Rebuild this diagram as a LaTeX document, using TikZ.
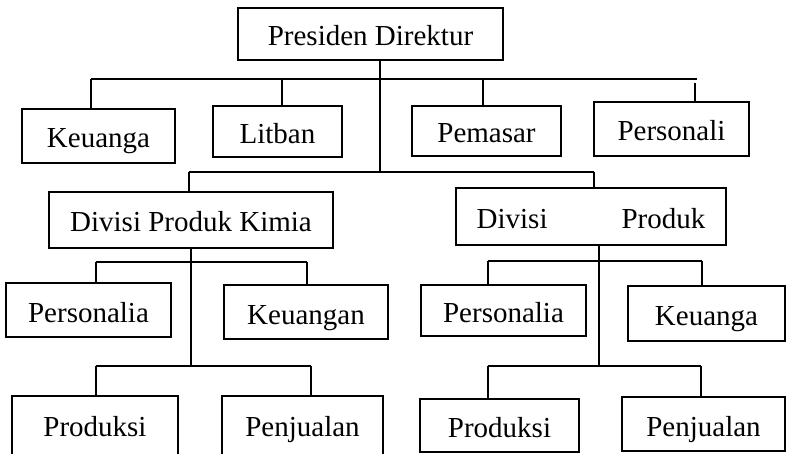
\documentclass[tikz,border=0pt]{standalone}
\usepackage{fontspec}
\setmainfont{Liberation Serif}
\begin{document}
\begin{tikzpicture}[x=1pt,y=-1pt,line width=1.8pt,
  box/.style={draw,inner sep=0pt,font=\fontsize{29}{32}\selectfont,text height=24pt,text depth=0pt},
  obox/.style={box,draw=none}]
\useasboundingbox (0,0) rectangle (786,454);
\clip (0,0) rectangle (786,454);
% top level
\node[box,minimum width=265pt,minimum height=52pt] (pres) at (370.5,34) {Presiden Direktur};
\node[box,minimum width=153pt,minimum height=54pt] (keu) at (98.5,136) {Keuanga};
\node[box,minimum width=129pt,minimum height=51pt] (lit) at (277.5,131.5) {Litban};
\node[box,minimum width=149pt,minimum height=50pt] (pem) at (486.5,131) {Pemasar};
\node[box,minimum width=155pt,minimum height=54pt] (per) at (671.5,129) {Personali};
% divisions
\node[box,minimum width=284pt,minimum height=56pt] (kim) at (191,220) {Divisi Produk Kimia};
\node[box,minimum width=270pt,minimum height=57pt] (dpr) at (591,216.5) {Divisi\hspace{74pt}Produk};
% left division units
\node[box,minimum width=165pt,minimum height=54pt] (lpers) at (88.5,310) {Personalia};
\node[box,minimum width=164pt,minimum height=54pt] (lkeu) at (306,312) {Keuangan};
\node[obox,minimum width=164pt,minimum height=54pt] (lprod) at (95,424) {Produksi};
\node[obox,minimum width=159pt,minimum height=54pt] (lpen) at (302.5,424) {Penjualan};
\draw ([yshift=-20pt]lprod.south west) -- (lprod.north west) -- (lprod.north east) -- ([yshift=-20pt]lprod.south east);
\draw ([yshift=-20pt]lpen.south west) -- (lpen.north west) -- (lpen.north east) -- ([yshift=-20pt]lpen.south east);
% right division units
\node[box,minimum width=165pt,minimum height=51pt] (rpers) at (503.5,310.5) {Personalia};
\node[box,minimum width=157pt,minimum height=55pt] (rkeu) at (706.5,313.5) {Keuanga};
\node[box,minimum width=159pt,minimum height=53pt] (rprod) at (499.5,425.5) {Produksi};
\node[box,minimum width=163pt,minimum height=54pt] (rpen) at (703.5,424) {Penjualan};
% connectors: top
\coordinate (tr) at (380,172);
\coordinate (b1L) at (91,79);
\coordinate (b1R) at (697,79);
\coordinate (dLit) at (282,79);
\coordinate (dPem) at (483,79);
\coordinate (dPer) at (695,83);
\draw (tr |- pres.south) -- (tr);
\draw (b1L) -- (b1R);
\draw (b1L) -- (b1L |- keu.north);
\draw (dLit) -- (dLit |- lit.north);
\draw (dPem) -- (dPem |- pem.north);
\draw (dPer) -- (dPer |- per.north);
\coordinate (b2L) at (189,172);
\coordinate (b2R) at (594,172);
\draw (b2L) -- (b2R);
\draw (b2L) -- (b2L |- kim.north);
\draw (b2R) -- (b2R |- dpr.north);
% left division
\coordinate (ltr) at (191,366);
\draw (ltr |- kim.south) -- (ltr);
\coordinate (l1L) at (96,262);
\coordinate (l1R) at (307,262);
\draw (l1L) -- (l1R);
\draw (l1L) -- (l1L |- lpers.north);
\draw (l1R) -- (l1R |- lkeu.north);
\coordinate (l2L) at (96,366);
\coordinate (l2R) at (311,366);
\draw (l2L) -- (l2R);
\draw (l2L) -- (l2L |- lprod.north);
\draw (l2R) -- (l2R |- lpen.north);
% right division
\coordinate (rtr) at (599,366);
\draw (rtr |- dpr.south) -- (rtr);
\coordinate (r1L) at (488,261);
\coordinate (r1R) at (702,261);
\draw (r1L) -- (r1R);
\draw (r1L) -- (r1L |- rpers.north);
\draw (r1R) -- (r1R |- rkeu.north);
\coordinate (r2L) at (488,366);
\coordinate (r2R) at (701,366);
\draw (r2L) -- (r2R);
\draw (r2L) -- (r2L |- rprod.north);
\draw (r2R) -- (r2R |- rpen.north);
\end{tikzpicture}
\end{document}
